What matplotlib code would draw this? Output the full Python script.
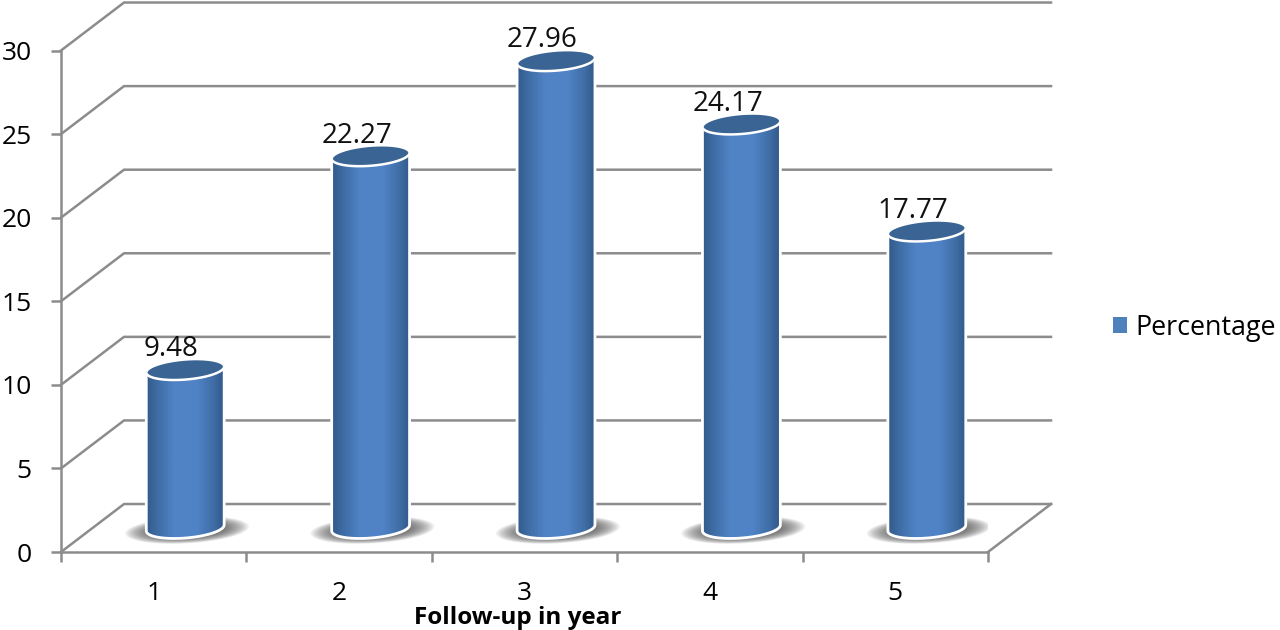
import matplotlib
matplotlib.use("Agg")
import matplotlib.pyplot as plt
import numpy as np
from matplotlib.colors import LinearSegmentedColormap
from matplotlib.patches import Patch, Polygon

years = [1, 2, 3, 4, 5]
percentage = [9.48, 22.27, 27.96, 24.17, 17.77]
y_ticks = [0, 5, 10, 15, 20, 25, 30]
series_name = "Percentage"
x_title = "Follow-up in year"

GRID = "#8c8c8c"
TOP = "#3a6493"
DEPTH_X, DEPTH_Y = 0.34, 2.87     # how far the back wall sits behind the front axis
HALF_W, HALF_H = 0.21, 0.6        # cylinder ellipse
TILT = 0.85                       # ellipses lean up to the right

plt.rcParams["font.family"] = ["Open Sans", "DejaVu Sans"]

fig = plt.figure(figsize=(12.8, 6.3), dpi=100)
ax = fig.add_axes([61 / 1280, 78 / 630, 927 / 1280, 501.5 / 630])
ax.set_xlim(0.5, 5.5)
ax.set_ylim(0, 30)

for s in ["top", "right"]:
    ax.spines[s].set_visible(False)
for s in ["left", "bottom"]:
    ax.spines[s].set_color(GRID)
    ax.spines[s].set_linewidth(1.8)
    ax.spines[s].set_zorder(1)

ax.set_yticks(y_ticks)
ax.tick_params(axis="y", length=7, width=1.8, color=GRID, pad=14, labelsize=19)
ax.set_xticks(years)
ax.set_xticklabels([str(y) for y in years])
ax.set_xticks(np.arange(0.5, 6), minor=True)
ax.tick_params(axis="x", which="major", length=0, pad=21, labelsize=19)
ax.tick_params(axis="x", which="minor", length=7, width=1.8, color=GRID)
ax.set_xlabel(x_title, fontsize=17.5, fontweight="bold")
ax.xaxis.set_label_coords(0.493, -0.108)

# walls: back wall lines plus the diagonals back from the value axis
for v in y_ticks:
    ax.plot([0.5, 0.5 + DEPTH_X, 5.5 + DEPTH_X], [v, v + DEPTH_Y, v + DEPTH_Y],
            color=GRID, lw=1.8, clip_on=False, zorder=1, solid_joinstyle="miter")
ax.plot([5.5, 5.5 + DEPTH_X], [0, DEPTH_Y], color=GRID, lw=1.8, clip_on=False, zorder=1)

cmap = LinearSegmentedColormap.from_list(
    "cyl", [(0, "#31598a"), (0.14, "#3e6ca3"), (0.36, "#5083c6"),
            (0.66, "#5083c6"), (0.88, "#3e6ca3"), (1, "#31598a")])
ramp = np.linspace(0, 1, 256)[None, :]
t = np.linspace(0, 2 * np.pi, 90)


def ellipse(cx, cy, a, b, tilt=TILT):
    return np.column_stack([cx + a * np.cos(t),
                            cy + b * np.sin(t) + tilt * a * np.cos(t)])


base_y = DEPTH_Y / 2
for year, value in zip(years, percentage):
    cx = year + DEPTH_X / 2
    top_y = base_y + value

    # soft floor shadow
    for k in np.linspace(1, 0.4, 30):
        ax.add_patch(Polygon(ellipse(cx + 0.01, base_y - 0.12, 0.335 * k, 0.8 * k, 0.62),
                             fc="#4a4a4a", ec="none", alpha=0.06, zorder=2))

    # body: front half of the base, back along the top
    left_to_right = np.linspace(np.pi, 2 * np.pi, 45)
    bottom = np.column_stack([cx + HALF_W * np.cos(left_to_right),
                              base_y + HALF_H * np.sin(left_to_right)
                              + TILT * HALF_W * np.cos(left_to_right)])
    right_to_left = np.linspace(0, np.pi, 45)
    upper = np.column_stack([cx + HALF_W * np.cos(right_to_left),
                             top_y + HALF_H * np.sin(right_to_left)
                             + TILT * HALF_W * np.cos(right_to_left)])
    outline = Polygon(np.vstack([bottom, upper]), closed=True, fc="none",
                      ec="white", lw=2, zorder=4)
    im = ax.imshow(ramp, cmap=cmap, aspect="auto", zorder=3,
                   extent=[cx - HALF_W, cx + HALF_W, 0, top_y + 2])
    ax.add_patch(outline)
    im.set_clip_path(outline)

    ax.add_patch(Polygon(ellipse(cx, top_y, HALF_W, HALF_H), fc=TOP, ec="white",
                         lw=1.8, zorder=5))
    ax.annotate(f"{value:.2f}", (cx, top_y), xytext=(-10, 9.5), textcoords="offset points",
                ha="center", va="baseline", fontsize=20, color="#111111", zorder=6,
                annotation_clip=False)

ax.set_xlim(0.5, 5.5)
ax.set_ylim(0, 30)

fig.legend(handles=[Patch(fc="#4f81bd", ec="none", label=series_name)], frameon=False,
           loc="center left", bbox_to_anchor=(1110 / 1280, 1 - 327.5 / 630), fontsize=19.4,
           handlelength=0.54, handleheight=0.54, handletextpad=0.3,
           borderpad=0.1, borderaxespad=0)

fig.savefig("out.png", dpi=100)
